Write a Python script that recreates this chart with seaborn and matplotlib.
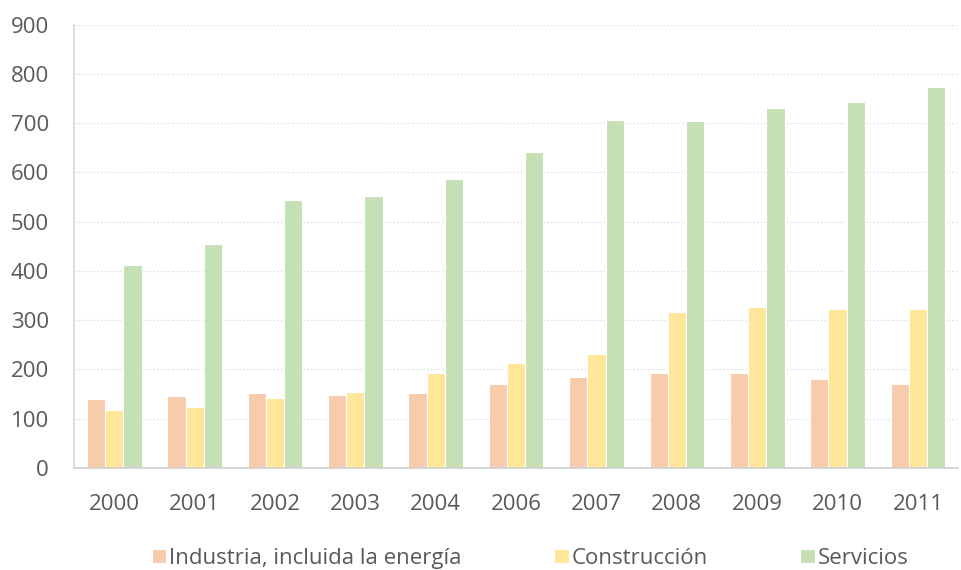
import matplotlib
matplotlib.use("Agg")
import matplotlib.pyplot as plt
import seaborn as sns
import pandas as pd

years = ["2000", "2001", "2002", "2003", "2004", "2006", "2007", "2008", "2009", "2010", "2011"]
industria = [140, 146, 153, 149, 153, 170, 184, 192, 192, 180, 170]
construccion = [118, 124, 142, 154, 193, 214, 231, 316, 327, 323, 323]
servicios = [412, 454, 544, 552, 586, 642, 706, 704, 730, 743, 774]
series_names = ["Industria, incluida la energía", "Construcción", "Servicios"]
colors = ["#F8CBAD", "#FFE699", "#C5E0B4"]

df = pd.DataFrame({
    "year": years * 3,
    "value": industria + construccion + servicios,
    "sector": [series_names[0]] * len(years) + [series_names[1]] * len(years) + [series_names[2]] * len(years),
})

sns.set_theme(style="white")
plt.rcParams["font.family"] = ["Open Sans", "DejaVu Sans"]
text_color = "#595959"

fig = plt.figure(figsize=(9.62, 5.70), dpi=100)
ax = fig.add_axes([0.077, 0.179, 0.919, 0.778])

sns.barplot(data=df, x="year", y="value", hue="sector", palette=colors,
            saturation=1, width=0.68, gap=0, ax=ax, edgecolor="white",
            linewidth=0.8, errorbar=None, legend=True)

ax.set_ylim(0, 900)
ax.set_yticks(range(0, 901, 100))
ax.set_xlim(-0.5, len(years) - 0.5)
ax.set_xlabel("")
ax.set_ylabel("")
ax.yaxis.grid(True, color="#E3E3E3", linestyle=(0, (1.5, 1.5)), linewidth=0.9)
ax.set_axisbelow(True)
for side in ["top", "right"]:
    ax.spines[side].set_visible(False)
ax.spines["left"].set_color("#D9D9D9")
ax.spines["bottom"].set_color("#D0D0D0")
ax.spines["bottom"].set_linewidth(1.2)
ax.tick_params(axis="both", length=0, labelsize=16, colors=text_color)
ax.tick_params(axis="x", pad=19)
ax.tick_params(axis="y", pad=18)

handles, labels = ax.get_legend_handles_labels()
ax.legend(handles, labels, loc="upper center", bbox_to_anchor=(0.516, -0.135),
          ncol=3, frameon=False, fontsize=16, labelcolor=text_color,
          handlelength=0.65, handleheight=0.65, handletextpad=0.15,
          columnspacing=4.15)

fig.savefig("out.png", dpi=100)
